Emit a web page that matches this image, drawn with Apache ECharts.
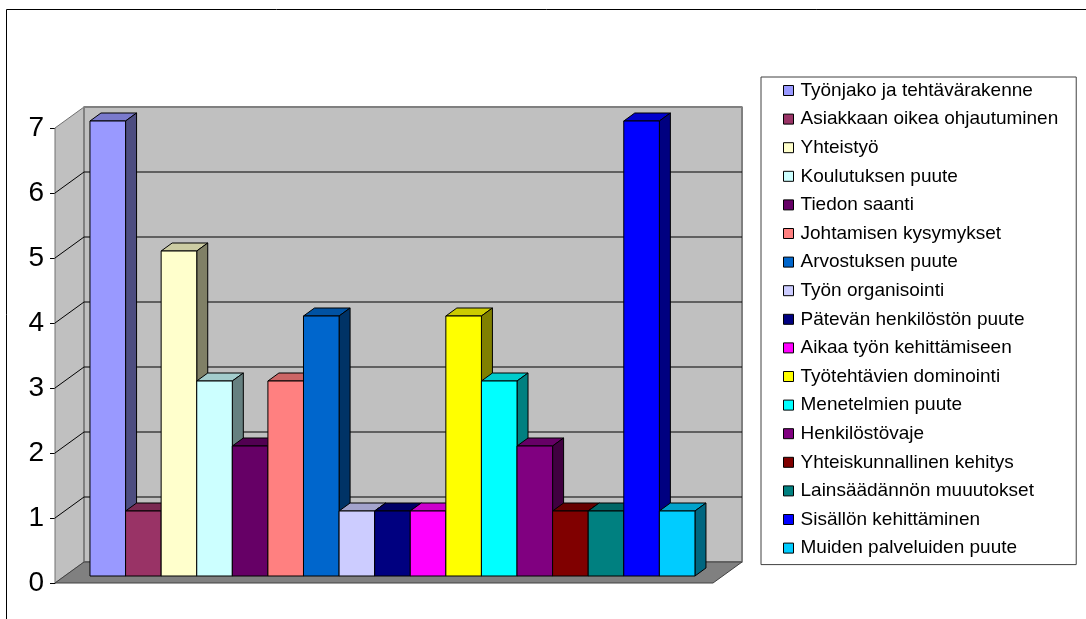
<!DOCTYPE html>
<html lang="fi">
<head>
<meta charset="UTF-8">
<title>Kehittämistarpeet</title>
<style>
  html, body { margin: 0; padding: 0; background: #fff; }
  #chart { width: 1086px; height: 619px; }
</style>
<script src="https://cdn.jsdelivr.net/npm/echarts@6/dist/echarts.min.js"></script>
</head>
<body>
<div id="chart"></div>
<script>
const names = [
  'Työnjako ja tehtävärakenne',
  'Asiakkaan oikea ohjautuminen',
  'Yhteistyö',
  'Koulutuksen puute',
  'Tiedon saanti',
  'Johtamisen kysymykset',
  'Arvostuksen puute',
  'Työn organisointi',
  'Pätevän henkilöstön puute',
  'Aikaa työn kehittämiseen',
  'Työtehtävien dominointi',
  'Menetelmien puute',
  'Henkilöstövaje',
  'Yhteiskunnallinen kehitys',
  'Lainsäädännön muuutokset',
  'Sisällön kehittäminen',
  'Muiden palveluiden puute'
]
const values = [7, 1, 5, 3, 2, 3, 4, 1, 1, 1, 4, 3, 2, 1, 1, 7, 1]
const colors = [
  '#9999ff', '#993366', '#ffffcc', '#ccffff', '#660066', '#ff8080',
  '#0066cc', '#ccccff', '#000080', '#ff00ff', '#ffff00', '#00ffff',
  '#800080', '#800000', '#008080', '#0000ff', '#00ccff'
]
const yTicks = [0, 1, 2, 3, 4, 5, 6, 7]

// x range of the floor in bar units (bars sit on 0..17)
const xMin = -0.73
const xMax = 17.76
// pixel offsets that fake the 3d look
const wallDepth = [29, -21]
const barShift = [9, -7]
const barDepth = [11, -8]

function shade(hex, k) {
  const n = parseInt(hex.slice(1), 16)
  const r = Math.round(((n >> 16) & 255) * k)
  const g = Math.round(((n >> 8) & 255) * k)
  const b = Math.round((n & 255) * k)
  return 'rgb(' + r + ',' + g + ',' + b + ')'
}

function off(p, d) {
  return [p[0] + d[0], p[1] + d[1]]
}

function renderWalls(params, api) {
  const yMax = yTicks[yTicks.length - 1]
  const a = api.coord([xMin, 0])
  const b = api.coord([xMax, 0])
  const c = api.coord([xMin, yMax])
  const d = api.coord([xMax, yMax])
  const children = []
  // left wall
  children.push({
    type: 'polygon',
    shape: { points: [a, c, off(c, wallDepth), off(a, wallDepth)] },
    style: { fill: '#c0c0c0', stroke: '#707070', lineWidth: 1, lineJoin: 'bevel' }
  })
  // back wall
  children.push({
    type: 'polygon',
    shape: { points: [off(a, wallDepth), off(b, wallDepth), off(d, wallDepth), off(c, wallDepth)] },
    style: { fill: '#c0c0c0', stroke: '#808080', lineWidth: 2, lineJoin: 'bevel' }
  })
  // grid lines
  yTicks.slice(1, -1).forEach(function (v) {
    const l = api.coord([xMin, v])
    const r = api.coord([xMax, v])
    children.push({
      type: 'polyline',
      shape: { points: [l, off(l, wallDepth), off(r, wallDepth)] },
      style: { stroke: '#000', lineWidth: 1, fill: null }
    })
  })
  // floor
  children.push({
    type: 'polygon',
    shape: { points: [a, b, off(b, wallDepth), off(a, wallDepth)] },
    style: { fill: '#808080', stroke: '#404040', lineWidth: 1, lineJoin: 'bevel' }
  })
  return { type: 'group', children: children }
}

function renderBar(params, api) {
  const i = api.value(0)
  const v = api.value(1)
  const p0 = api.coord([i, 0])
  const p1 = api.coord([i + 1, v])
  const x = p0[0] + barShift[0]
  const y = p1[1] + barShift[1]
  const w = p1[0] - p0[0]
  const h = p0[1] - p1[1]
  const col = colors[params.seriesIndex - 1]
  const edge = { stroke: '#000', lineWidth: 1, lineJoin: 'bevel' }
  return {
    type: 'group',
    children: [
      {
        type: 'polygon',
        shape: { points: [[x, y], [x + w, y], off([x + w, y], barDepth), off([x, y], barDepth)] },
        style: Object.assign({ fill: shade(col, 0.8) }, edge)
      },
      {
        type: 'polygon',
        shape: { points: [[x + w, y], off([x + w, y], barDepth), off([x + w, y + h], barDepth), [x + w, y + h]] },
        style: Object.assign({ fill: shade(col, 0.5) }, edge)
      },
      {
        type: 'rect',
        shape: { x: x, y: y, width: w, height: h },
        style: Object.assign({ fill: col }, edge)
      }
    ]
  }
}

const series = [{
  name: 'walls',
  type: 'custom',
  silent: true,
  clip: false,
  renderItem: renderWalls,
  data: [[xMin, 0]]
}]
names.forEach(function (n, i) {
  series.push({
    name: n,
    type: 'custom',
    clip: false,
    itemStyle: { color: colors[i] },
    renderItem: renderBar,
    data: [[i, values[i]]]
  })
})

const chart = echarts.init(document.getElementById('chart'))
chart.setOption({
  animation: false,
  graphic: [{
    type: 'rect',
    shape: { x: 6.5, y: 9.5, width: 1100, height: 700 },
    style: { fill: null, stroke: '#000', lineWidth: 1 },
    silent: true
  }],
  grid: { left: 55, top: 128, width: 658, height: 455 },
  xAxis: {
    type: 'value',
    min: xMin,
    max: xMax,
    show: false
  },
  yAxis: {
    type: 'value',
    min: 0,
    max: 7,
    interval: 1,
    axisLine: { show: true, onZero: false, lineStyle: { color: '#606060' } },
    axisTick: { show: true, length: 5, lineStyle: { color: '#000' } },
    splitLine: { show: false },
    axisLabel: {
      fontFamily: 'Arial, Liberation Sans',
      fontSize: 28,
      color: '#000',
      margin: 11,
      padding: [4, 0, 0, 0]
    }
  },
  legend: {
    data: names,
    orient: 'vertical',
    left: 761,
    top: 77,
    icon: 'rect',
    itemWidth: 10,
    itemHeight: 10,
    itemGap: 9.6,
    itemStyle: { borderColor: '#000', borderWidth: 1 },
    padding: [4, 18, 7, 22],
    borderColor: '#404040',
    borderWidth: 1,
    textStyle: {
      fontFamily: 'Arial, Liberation Sans',
      fontSize: 19,
      color: '#000',
      width: 258,
      padding: [0, 0, 0, 2]
    }
  },
  series: series
})
</script>
</body>
</html>
